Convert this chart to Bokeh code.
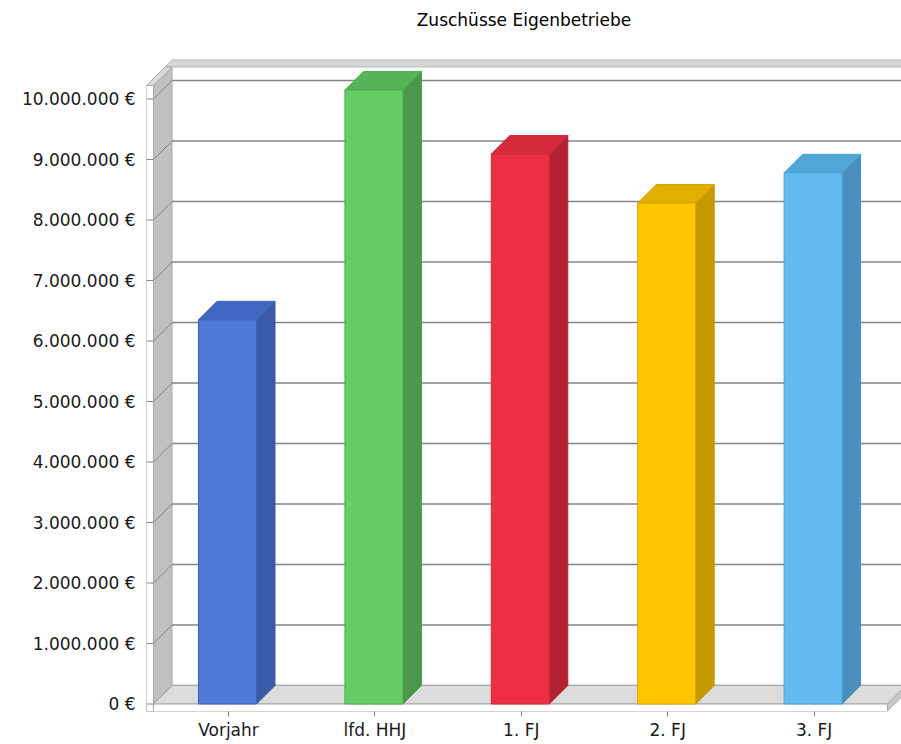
from bokeh.plotting import figure
from bokeh.models import FixedTicker, Range1d
from bokeh.embed import file_html
from bokeh.resources import INLINE

# ---------------- data ----------------
title_text = "Zuschüsse Eigenbetriebe"
categories = ["Vorjahr", "lfd. HHJ", "1. FJ", "2. FJ", "3. FJ"]
values = [6350000, 10150000, 9090000, 8280000, 8780000]
front_colors = ["#4f79d7", "#66cc66", "#ee2e45", "#ffc600", "#63bbf0"]
top_colors = ["#3f67c2", "#55b455", "#d42a3c", "#e2ae00", "#51a6d8"]
side_colors = ["#3a5ba6", "#4a994a", "#b32232", "#c49a00", "#4a8fbb"]
edge_colors = ["#3c62bd", "#52ac52", "#cc2a3c", "#d9a400", "#4ea2d6"]
y_ticks = [0, 1000000, 2000000, 3000000, 4000000, 5000000,
           6000000, 7000000, 8000000, 9000000, 10000000]
y_tick_labels = [f"{v:,}".replace(",", ".") + " €" for v in y_ticks]

# ---------------- layout (pixels) ----------------
W, H = 901, 744
FL, FR, FT, FB = 146, 901, 34, 711       # plot frame edges
Y0_PX, Y10_PX = 703.5, 98.5              # front-plane pixel of 0 and 10 Mio
X0_PX, SLOT_PX = 228, 146.4              # first category centre, spacing
DEPTH = 18.5                             # 3D depth offset (px)
BAR_W_PX = 58
WALL_T = 7                               # wall thickness (px)
FLOOR_END_PX = 887
WALL_TOP_PX = 85

ppv = (Y0_PX - Y10_PX) / 1e7
ppx = SLOT_PX

def X(px):
    return (px - X0_PX) / ppx

def Y(py):
    return (Y0_PX - py) / ppv

dx = DEPTH / ppx
dy = DEPTH / ppv
hw = BAR_W_PX / 2 / ppx
shift = -1 / ppx

p = figure(width=W, height=H, output_backend="svg", toolbar_location=None,
           x_range=Range1d(X(FL), X(FR)), y_range=Range1d(Y(FB), Y(FT)),
           min_border_left=FL, min_border_right=W - FR,
           min_border_top=FT, min_border_bottom=H - FB)
p.title.text = title_text
p.title.align = "center"
p.title.text_font = "DejaVu Sans"
p.title.text_font_size = "17px"
p.title.text_font_style = "normal"
p.title.text_color = "#000000"
p.outline_line_color = None
p.xgrid.visible = False
p.ygrid.visible = False
p.background_fill_color = "white"
p.border_fill_color = "white"

wall_line = "#a8a8a8"
grid_col = "#858585"

# back wall top edge (thickness)
xl_back = X(FL + WALL_T) + dx
p.patch([xl_back - WALL_T / ppx, X(FR + 20), X(FR + 20) + WALL_T / ppx, xl_back],
        [Y(WALL_TOP_PX) + dy, Y(WALL_TOP_PX) + dy,
         Y(WALL_TOP_PX) + dy + WALL_T / ppv, Y(WALL_TOP_PX) + dy + WALL_T / ppv],
        fill_color="#d6d6d6", line_color="#b8b8b8", line_width=1)

# left wall side face
xw = X(FL + WALL_T)
p.patch([xw, xw, xw + dx, xw + dx],
        [0, Y(WALL_TOP_PX), Y(WALL_TOP_PX) + dy, dy],
        fill_color="#c0c0c0", line_color=wall_line, line_width=1)

# grid lines on back wall and slanted on the left wall
p.segment(x0=[xw + dx] * len(y_ticks), y0=[v + dy for v in y_ticks],
          x1=[X(FR + 20)] * len(y_ticks), y1=[v + dy for v in y_ticks],
          line_color=grid_col, line_width=1.3)
p.segment(x0=[xw] * len(y_ticks), y0=y_ticks,
          x1=[xw + dx] * len(y_ticks), y1=[v + dy for v in y_ticks],
          line_color=grid_col, line_width=1)

# floor top face
xf = X(FLOOR_END_PX)
p.patch([xw, xf, xf + dx, xw + dx], [0, 0, dy, dy],
        fill_color="#dcdcdc", line_color=wall_line, line_width=1)
# floor right side
p.patch([xf, xf + dx, xf + dx, xf], [0, dy, dy - WALL_T / ppv, -WALL_T / ppv],
        fill_color="#c8c8c8", line_color=wall_line, line_width=1)
# floor front strip
p.patch([X(FL), xf, xf, X(FL)], [0, 0, Y(FB), Y(FB)],
        fill_color="white", line_color=wall_line, line_width=1)
# left wall top
p.patch([X(FL), xw, xw + dx, X(FL) + dx],
        [Y(WALL_TOP_PX), Y(WALL_TOP_PX), Y(WALL_TOP_PX) + dy, Y(WALL_TOP_PX) + dy],
        fill_color="#dadada", line_color=wall_line, line_width=1)
# left wall front strip
p.patch([X(FL), xw, xw, X(FL)], [Y(FB), Y(FB), Y(WALL_TOP_PX), Y(WALL_TOP_PX)],
        fill_color="white", line_color=wall_line, line_width=1)
# small tick marks on the wall front
p.segment(x0=[X(FL)] * len(y_ticks), y0=y_ticks, x1=[xw] * len(y_ticks), y1=y_ticks,
          line_color=grid_col, line_width=1)

# bars
xs = [i + shift for i in range(len(categories))]
for i, v in enumerate(values):
    c = xs[i]
    # side face
    p.patch([c + hw, c + hw + dx, c + hw + dx, c + hw],
            [0, dy, v + dy, v],
            fill_color=side_colors[i], line_color=side_colors[i], line_width=1)
    # top face
    p.patch([c - hw, c + hw, c + hw + dx, c - hw + dx],
            [v, v, v + dy, v + dy],
            fill_color=top_colors[i], line_color=edge_colors[i], line_width=1)
p.vbar(x=xs, top=values, bottom=0, width=2 * hw,
       fill_color=front_colors, line_color=edge_colors, line_width=1)

# axes
p.xaxis.ticker = FixedTicker(ticks=list(range(len(categories))))
p.xaxis.major_label_overrides = {i: c for i, c in enumerate(categories)}
p.xaxis.axis_line_color = None
p.xaxis.major_tick_out = 5
p.xaxis.major_tick_in = 0
p.xaxis.major_tick_line_color = "#808080"
p.xaxis.minor_tick_line_color = None
p.xaxis.major_label_standoff = 3
p.xaxis.major_label_text_font = "DejaVu Sans"
p.xaxis.major_label_text_font_size = "17px"
p.xaxis.major_label_text_color = "#1a1a1a"

p.yaxis.ticker = FixedTicker(ticks=y_ticks)
p.yaxis.major_label_overrides = {v: t for v, t in zip(y_ticks, y_tick_labels)}
p.yaxis.axis_line_color = None
p.yaxis.major_tick_line_color = None
p.yaxis.minor_tick_line_color = None
p.yaxis.major_tick_out = 0
p.yaxis.major_tick_in = 0
p.yaxis.major_label_standoff = 11
p.yaxis.major_label_text_font = "DejaVu Sans"
p.yaxis.major_label_text_font_size = "17px"
p.yaxis.major_label_text_color = "#1a1a1a"

open("out.html", "w").write(file_html(p, INLINE))
